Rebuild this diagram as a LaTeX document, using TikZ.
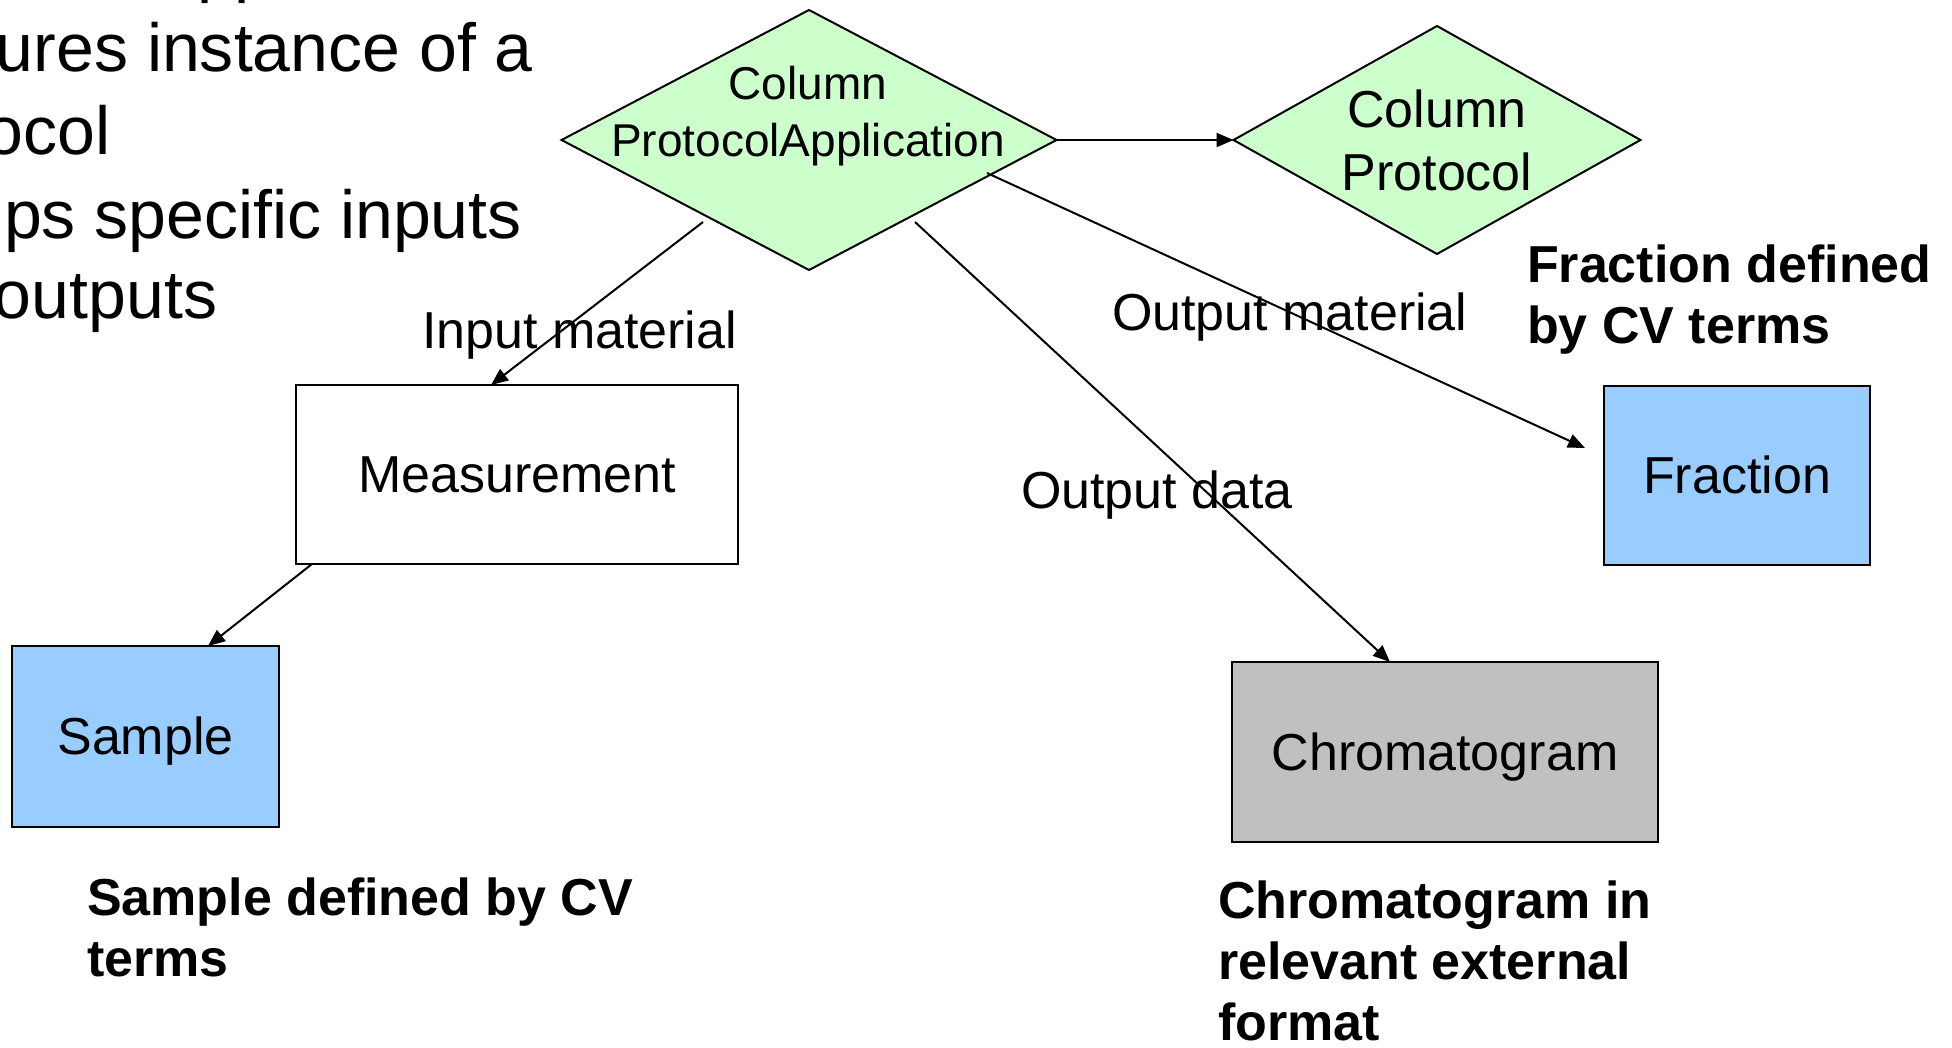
\documentclass[tikz,border=0pt]{standalone}
\usepackage{fontspec}
\setmainfont{Liberation Sans}
\usetikzlibrary{shapes.geometric,arrows.meta}
\definecolor{protgreen}{HTML}{CCFFCC}
\definecolor{cvblue}{HTML}{99CCFF}
\definecolor{datagray}{HTML}{C0C0C0}
\begin{document}
\begin{tikzpicture}[x=0.5pt,y=-0.5pt,
  every node/.style={inner sep=0pt,outer sep=0pt},
  slide/.style={font=\fontsize{34}{41}\selectfont,anchor=base west},
  lbl/.style={font=\fontsize{26}{31}\selectfont,anchor=base west},
  note/.style={font=\fontsize{26}{30.5}\selectfont\bfseries,align=left,anchor=base west},
  entity/.style={draw,line width=1.3pt,rectangle,font=\fontsize{26}{31}\selectfont,
    text height=23.53pt,text depth=5.51pt},
  decision/.style={draw,line width=1pt,diamond,fill=protgreen},
  dtext/.style={align=center,anchor=base},
  link/.style={line width=1pt,-{Triangle[length=8.5pt,width=7pt]}},
]
\useasboundingbox (0,0) rectangle (1952,1048);
\clip (0,0) rectangle (1952,1048);

% slide text running in from the left edge
\node[slide] (s0) at (197,-10) {pp};
\node[slide] (s1) at (-4,72) {ures instance of a};
\node[slide] (s2) at (-14,155) {ocol};
\node[slide] (s3) at (4,238) {ps specific inputs};
\node[slide] (s4) at (-6,318) {outputs};

% protocol diamonds (multi-line text is placed by its last baseline)
\node[decision,minimum width=247.5pt,minimum height=130pt] (cpa) at (809,140) {};
\node[dtext,font=\fontsize{23}{28.5}\selectfont] (cpatxt) at (808,157) {Column\\ProtocolApplication};
\node[decision,minimum width=203.5pt,minimum height=114pt] (cp) at (1437,140) {};
\node[dtext,font=\fontsize{26}{31.5}\selectfont] (cptxt) at (1437,191) {Column\\Protocol};

% entities
\node[entity,fill=white,minimum width=221pt,minimum height=89.5pt] (meas) at (517,474.5) {Measurement};
\node[entity,fill=cvblue,minimum width=133.5pt,minimum height=90.5pt] (sample) at (145.5,736.5) {Sample};
\node[entity,fill=cvblue,minimum width=133pt,minimum height=89.5pt] (frac) at (1737,475.5) {Fraction};
\node[entity,fill=datagray,minimum width=213pt,minimum height=90pt] (chrom) at (1445,752) {Chromatogram};

% connector labels
\node[lbl] (linput) at (422,348) {Input material};
\node[lbl] (loutmat) at (1112,330) {Output material};
\node[lbl] (loutdat) at (1021,508) {Output data};

% notes
\node[note] (nfrac) at (1527,343) {Fraction defined\\by CV terms};
\node[note] (nsample) at (87,976) {Sample defined by CV\\terms};
\node[note] (nchrom) at (1218,1040) {Chromatogram in\\relevant external\\format};

% connectors
\draw[link] (cpa.east) -- (cp.west);
\draw[link] ([shift={(-106,82)}]cpa.center) -- ([shift={(-26,0)}]meas.north);
\draw[link] ([shift={(16,0)}]meas.south west) -- ([shift={(62.5,0)}]sample.north);
\draw[link] ([shift={(106,82)}]cpa.center) -- ([shift={(-55,0)}]chrom.north);
\draw[link] ([shift={(178,33)}]cpa.center) -- ([shift={(-19,-27.5)}]frac.west);
\end{tikzpicture}
\end{document}
